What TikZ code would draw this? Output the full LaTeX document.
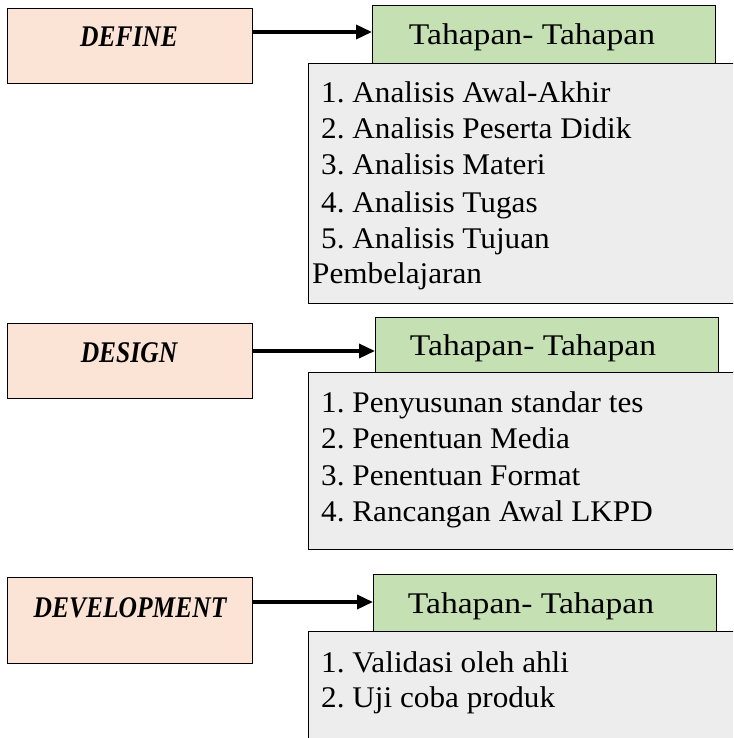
\documentclass[tikz,border=0pt]{standalone}
\usepackage{fontspec}
\setmainfont{Liberation Serif}
\newfontfamily\phasefont[FakeStretch=0.85]{Liberation Serif}
\newfontfamily\tahfont[FakeStretch=1.12]{Liberation Serif}
\newfontfamily\itemfont[FakeStretch=1.04]{Liberation Serif}
\usetikzlibrary{arrows.meta}
\definecolor{peach}{HTML}{FBE4D5}
\definecolor{lgreen}{HTML}{C5E0B3}
\definecolor{lgray}{HTML}{EDEDED}
\frenchspacing
\tikzset{
  phasebox/.style={draw=black, fill=peach, line width=1.2pt, minimum width=245pt, anchor=north west, inner sep=0pt},
  phaselabel/.style={anchor=base, inner sep=0pt, font=\phasefont\fontsize{30}{36}\selectfont\bfseries\itshape},
  stepbox/.style={draw=black, fill=lgreen, line width=1.2pt, minimum width=343pt, anchor=north west, inner sep=0pt},
  steptext/.style={anchor=base, inner sep=0pt, font=\tahfont\fontsize{30}{36}\selectfont},
  listbox/.style={draw=black, fill=lgray, line width=1.2pt, minimum width=440pt, anchor=north west, inner sep=0pt},
  itemtext/.style={anchor=base west, inner sep=0pt, font=\itemfont\fontsize{30}{36}\selectfont},
  conn/.style={line width=3.5pt, -{Triangle[length=16pt,width=14pt]}}
}
\begin{document}
\begin{tikzpicture}[x=1pt,y=-1pt]
\useasboundingbox (0,0) rectangle (733,738);
\clip (0,0) rectangle (733,738);
% ---- DEFINE ----
\node[phasebox, minimum height=75pt] (def) at (7,8) {};
\node[phaselabel] (deft) at (129,47) {DEFINE};
\node[stepbox, minimum height=58pt] (tah1) at (372,5) {};
\node[steptext] (tah1t) at (532,45) {Tahapan- Tahapan};
\node[listbox, minimum height=240pt] (l1) at (308,63) {};
\node[itemtext] (l1a) at (321,103) {1. Analisis Awal-Akhir};
\node[itemtext] (l1b) at (321,139) {2. Analisis Peserta Didik};
\node[itemtext] (l1c) at (321,175) {3. Analisis Materi};
\node[itemtext] (l1d) at (321,212) {4. Analisis Tugas};
\node[itemtext] (l1e) at (321,248) {5. Analisis Tujuan};
\node[itemtext] (l1f) at (312,283) {Pembelajaran};
\coordinate (a1) at (252,32);
\draw[conn] (a1) -- (tah1.west |- a1);
% ---- DESIGN ----
\node[phasebox, minimum height=75pt] (des) at (7,323) {};
\node[phaselabel] (dest) at (129,362) {DESIGN};
\node[stepbox, minimum height=55pt] (tah2) at (375,317) {};
\node[steptext] (tah2t) at (533,355) {Tahapan- Tahapan};
\node[listbox, minimum height=177pt] (l2) at (308,372) {};
\node[itemtext] (l2a) at (321,412) {1. Penyusunan standar tes};
\node[itemtext] (l2b) at (321,448) {2. Penentuan Media};
\node[itemtext] (l2c) at (321,485) {3. Penentuan Format};
\node[itemtext] (l2d) at (321,521) {4. Rancangan Awal LKPD};
\coordinate (a2) at (252,351);
\draw[conn] (a2) -- (tah2.west |- a2);
% ---- DEVELOPMENT ----
\node[phasebox, minimum height=86pt] (dev) at (7,577) {};
\node[phaselabel] (devt) at (130,617) {DEVELOPMENT};
\node[stepbox, minimum height=57pt] (tah3) at (373,574) {};
\node[steptext] (tah3t) at (531,613) {Tahapan- Tahapan};
\node[listbox, minimum height=130pt] (l3) at (308,631) {};
\node[itemtext] (l3a) at (321,672) {1. Validasi oleh ahli};
\node[itemtext] (l3b) at (321,707) {2. Uji coba produk};
\coordinate (a3) at (252,602);
\draw[conn] (a3) -- (tah3.west |- a3);
\end{tikzpicture}
\end{document}
